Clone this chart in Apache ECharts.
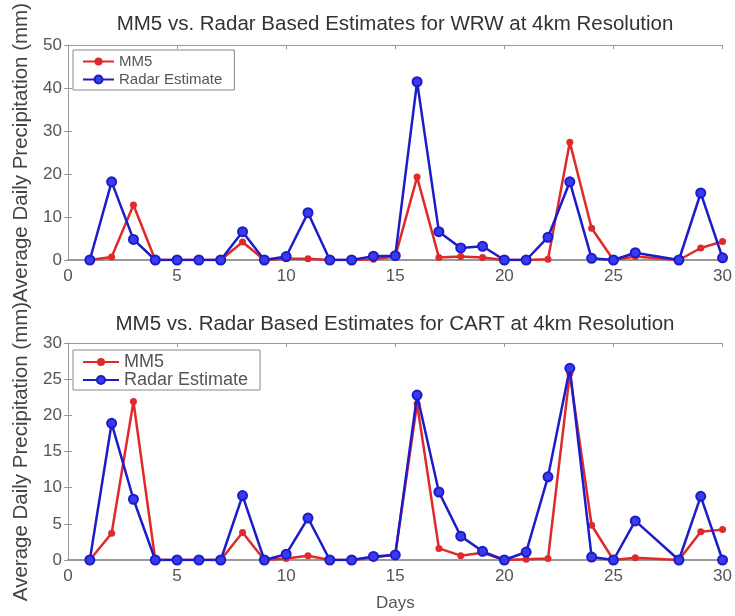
<!DOCTYPE html>
<html>
<head>
<meta charset="utf-8">
<script src="https://cdn.jsdelivr.net/npm/echarts@6/dist/echarts.min.js"></script>
<style>
html,body{margin:0;padding:0;background:#fff;}
#chart{width:735px;height:616px;}
</style>
</head>
<body>
<div id="chart"></div>
<script>
// ---- data ----
const days = [1,2,3,4,5,6,7,8,9,10,11,12,13,14,15,16,17,18,19,20,21,22,23,24,25,26,28,29,30];
const wrwMM5   = [0,0.7,12.8,0,0,0,0,4.2,0,0.3,0.3,0,0,0.2,0.8,19.3,0.6,0.8,0.6,0,0,0.2,27.4,7.4,0,0.8,0,2.8,4.3];
const wrwRadar = [0,18.2,4.8,0,0,0,0,6.6,0,0.8,11,0,0,0.9,1,41.5,6.6,2.8,3.2,0,0,5.3,18.2,0.4,0,1.7,0,15.6,0.5];
const cartMM5   = [0,3.7,21.9,0,0,0,0,3.8,0,0.2,0.6,0,0,0.3,0.8,21.6,1.6,0.6,1.0,0,0.1,0.2,25.8,4.8,0,0.3,0,3.9,4.2];
const cartRadar = [0,18.9,8.4,0,0,0,0,8.9,0,0.8,5.8,0,0,0.5,0.7,22.8,9.4,3.3,1.2,0,1.1,11.5,26.5,0.4,0,5.4,0,8.8,0];
const xTicks = [0,5,10,15,20,25,30];
const topYTicks = [0,10,20,30,40,50];
const botYTicks = [0,5,10,15,20,25,30];
const titles = ['MM5 vs. Radar Based Estimates for WRW at 4km Resolution',
                'MM5 vs. Radar Based Estimates for CART at 4km Resolution'];
const yName = 'Average Daily Precipitation (mm)';
const xName = 'Days';
const seriesNames = ['MM5','Radar Estimate'];

const FONT = 'Liberation Sans';
const RED = '#e02a2a';
const BLUE = '#1c1cc8';
const AX = '#9a9a9a';
const TXT = '#555';

function pairs(arr){ return days.map((d,i)=>[d, arr[i]]); }

const chart = echarts.init(document.getElementById('chart'), null, {renderer:'canvas'});

function xAx(gi, pos){
  const main = pos === 'bottom';
  return {
    type:'value', gridIndex:gi, position:pos, min:xTicks[0], max:xTicks[xTicks.length-1], interval:5,
    name: (main && gi===1) ? xName : '', nameLocation:'middle', nameGap:35,
    nameTextStyle:{fontFamily:FONT,fontSize:17,color:TXT},
    axisLine:{show:true,onZero:false,lineStyle:{color: AX, width: main?2:1}},
    axisTick:{show:true,inside:true,length:4,lineStyle:{color:AX}},
    axisLabel:{show:main,fontFamily:FONT,fontSize:17,color:TXT,margin:8},
    splitLine:{show:false}
  };
}
function yAx(gi, pos, ticks){
  const main = pos === 'left';
  return {
    type:'value', gridIndex:gi, position:pos, min:ticks[0], max:ticks[ticks.length-1], interval:ticks[1]-ticks[0],
    name: main ? yName : '', nameLocation:'middle', nameGap:33, nameRotate:90,
    nameTextStyle:{fontFamily:FONT,fontSize:20.5,color:'#444'},
    axisLine:{show:true,lineStyle:{color:AX,width:1}},
    axisTick:{show:true,inside:true,length:4,lineStyle:{color:AX}},
    axisLabel:{show:main,fontFamily:FONT,fontSize:17,color:TXT,margin:6},
    splitLine:{show:false}
  };
}
function redSeries(xi, data){
  return {name:seriesNames[0], type:'line', xAxisIndex:xi, yAxisIndex:xi, data:pairs(data),
    symbol:'circle', symbolSize:7, showAllSymbol:true,
    lineStyle:{color:RED,width:2.5}, itemStyle:{color:RED}, z:2, animation:false};
}
function blueSeries(xi, data){
  return {name:seriesNames[1], type:'line', xAxisIndex:xi, yAxisIndex:xi, data:pairs(data),
    symbol:'circle', symbolSize:9, showAllSymbol:true,
    lineStyle:{color:BLUE,width:2.5}, itemStyle:{color:'#3a3af0',borderColor:BLUE,borderWidth:2}, z:3, animation:false};
}
function legend(top, fs, iw, gap, pad){
  return {
    orient:'vertical', left:73, top:top, data:seriesNames,
    itemWidth:iw, itemHeight:10, itemGap:gap, padding:pad,
    borderColor:'#888', borderWidth:1, backgroundColor:'#fff',
    textStyle:{fontFamily:FONT,fontSize:fs,color:TXT}, selectedMode:false
  };
}
function title(text, top){
  return {text:text, left:390, top:top, textAlign:'center',
    textStyle:{fontFamily:FONT,fontSize:20.5,fontWeight:'normal',color:'#333'}};
}

chart.setOption({
  animation:false,
  backgroundColor:'#fff',
  title:[ title(titles[0], 9), title(titles[1], 309) ],
  legend:[legend(50,15,31,3,[4,12,3,9]), legend(350,18,36,0,[3,12,1,9])],
  grid:[
    {left:68, right:10, top:43, height:217},
    {left:68, right:10, top:343, height:217}
  ],
  xAxis:[xAx(0,'bottom'), xAx(1,'bottom'), xAx(0,'top'), xAx(1,'top')],
  yAxis:[yAx(0,'left',topYTicks), yAx(1,'left',botYTicks), yAx(0,'right',topYTicks), yAx(1,'right',botYTicks)],
  series:[
    redSeries(0, wrwMM5), blueSeries(0, wrwRadar),
    redSeries(1, cartMM5), blueSeries(1, cartRadar)
  ]
});
</script>
</body>
</html>
